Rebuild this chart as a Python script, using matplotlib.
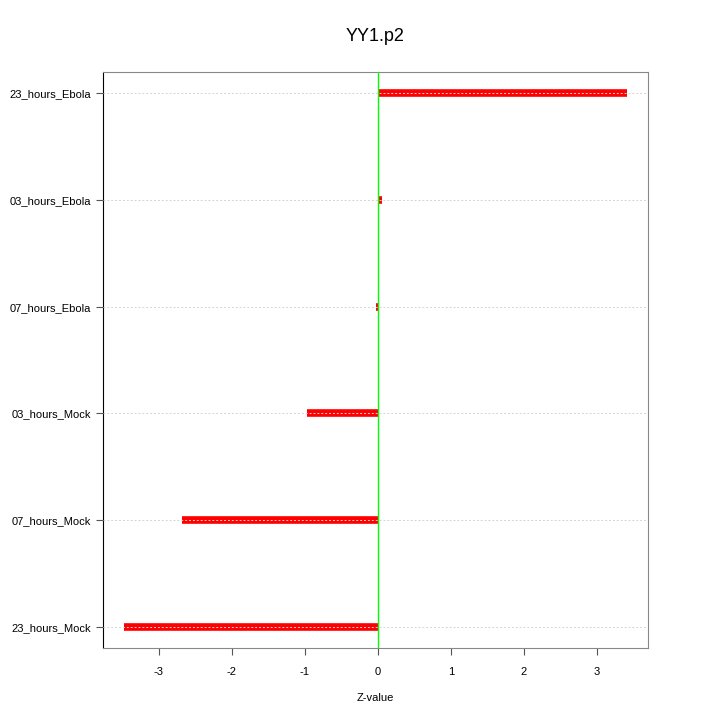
import matplotlib
matplotlib.use("Agg")
import matplotlib.pyplot as plt

plt.rcParams['font.family'] = ['Liberation Sans', 'DejaVu Sans']
plt.rcParams['axes.unicode_minus'] = False

categories = ['23_hours_Mock', '07_hours_Mock', '03_hours_Mock',
              '07_hours_Ebola', '03_hours_Ebola', '23_hours_Ebola']
zvalues = [-3.48, -2.68, -0.97, -0.03, 0.05, 3.41]
xticks = [-3, -2, -1, 0, 1, 2, 3]

fig = plt.figure(figsize=(7.2, 7.2), dpi=100)
ax = fig.add_axes([0.143, 0.1, 0.757, 0.8])

ypos = list(range(1, len(categories) + 1))
ax.hlines(ypos, 0, zvalues, colors='#ff0000', linewidth=5.5, zorder=2)
for y in ypos:
    ax.axhline(y, color='#d3d3d3', linestyle=(0, (2, 2)), linewidth=0.7, zorder=3)
ax.axvline(0, color='#00ff00', linewidth=1.0, zorder=4)

ax.set_xlim(-3.767, 3.699)
ax.set_ylim(0.8, 6.2)
ax.set_yticks(ypos)
ax.set_yticklabels(categories)
ax.set_xticks(xticks)
ax.tick_params(labelsize=8, colors='#555555', labelcolor='black', length=5)
ax.tick_params(axis='x', pad=9)
for s in ax.spines.values():
    s.set_color('#888888')
ax.spines['left'].set_color('black')

ax.set_xlabel('Z-value', fontsize=8, labelpad=11)
ax.set_title('YY1.p2', fontsize=13, pad=22)

fig.savefig('out.png', dpi=100)
